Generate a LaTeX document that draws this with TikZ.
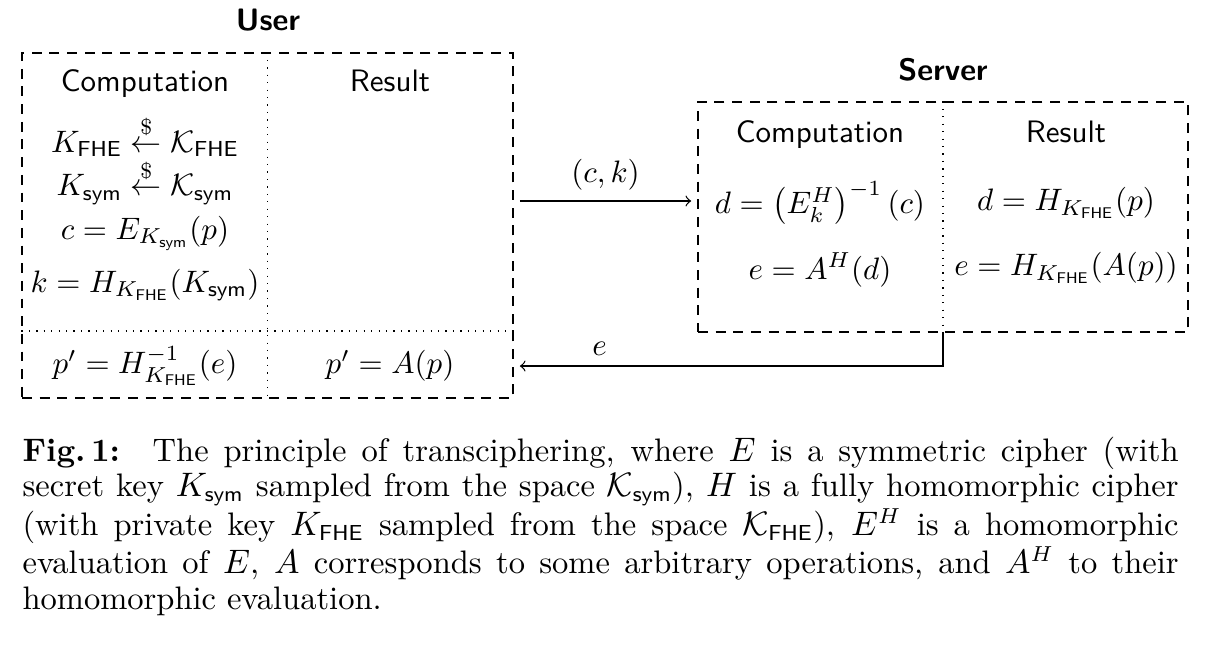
\documentclass[tikz,border=0pt]{standalone}
\usepackage{tikz}
\usepackage{amsmath}

\begin{document}
\begin{tikzpicture}[
    partybox/.style={draw, dash pattern=on 3.2pt off 2.5pt, inner sep=0pt},
    partytitle/.style={font=\sffamily\bfseries},
    colhead/.style={font=\sffamily, anchor=base},
    sendarrow/.style={->, shorten >=2pt, shorten <=2pt}
]
    % Parameters
    \def\capwidth{13.107cm} % width of the caption text

    % Fixed frame of the picture
    \useasboundingbox (0,0) rectangle (13.696,-7.336);

    % User side
    \node[partytitle] (usertitle) at (3.039,-0.227) {User};
    \node[partybox, minimum width=5.567cm, minimum height=3.912cm] (user) at (3.033,-2.557) {};
    \coordinate (usersep) at (0,-3.753);
    \draw[dotted] (user.north) -- (user.south);
    \draw[dotted] (user.west |- usersep) -- (user.east |- usersep);

    \node[colhead] (usercomp) at (1.644,-1.043) {Computation};
    \node[colhead] (userres) at (4.422,-1.043) {Result};

    \node (kfhe) at (1.644,-1.541) {$K_{\mathsf{FHE}} \stackrel{\$}{\leftarrow} \mathcal{K}_{\mathsf{FHE}}$};
    \node (ksym) at (1.644,-2.062) {$K_{\mathsf{sym}} \stackrel{\$}{\leftarrow} \mathcal{K}_{\mathsf{sym}}$};
    \node (cenc) at (1.644,-2.642) {$c = E_{K_{\mathsf{sym}}}(p)$};
    \node (khash) at (1.644,-3.231) {$k = H_{K_{\mathsf{FHE}}}(K_{\mathsf{sym}})$};
    \node (pdec) at (1.644,-4.150) {$p' = H^{-1}_{K_{\mathsf{FHE}}}(e)$};
    \node (pres) at (4.422,-4.150) {$p' = A(p)$};

    % Server side
    \node[partytitle] (servertitle) at (10.692,-0.794) {Server};
    \node[partybox, minimum width=5.556cm, minimum height=2.608cm] (server) at (10.692,-2.460) {};
    \draw[dotted] (server.north) -- (server.south);

    \node[colhead] (servercomp) at (9.297,-1.621) {Computation};
    \node[colhead] (serverres) at (12.086,-1.621) {Result};

    \node (dcomp) at (9.297,-2.302) {$d = \left(E_k^H\right)^{-1}(c)$};
    \node (ecomp) at (9.297,-3.061) {$e = A^H(d)$};
    \node (dres) at (12.086,-2.302) {$d = H_{K_{\mathsf{FHE}}}(p)$};
    \node (eres) at (12.086,-3.039) {$e = H_{K_{\mathsf{FHE}}}(A(p))$};

    % Messages
    \draw[sendarrow] (user.east |- 0,-2.279) -- node[above] {$(c,k)$} (server.west |- 0,-2.279);
    \draw[->, shorten >=2pt] (server.south) |- node[pos=0.9, above] {$e$} (user.east |- pres);

    % Caption
    \node[anchor=north west, text width=\capwidth, inner sep=0pt, align=justify,
          font=\fontsize{10.5}{11.3}\selectfont] (caption) at (0.249,-4.943)
        {\textbf{Fig.\,1:}\quad The principle of transciphering, where $E$ is a symmetric cipher (with\linebreak
         secret key $K_{\mathsf{sym}}$ sampled from the space $\mathcal{K}_{\mathsf{sym}}$), $H$ is a fully homomorphic cipher\linebreak
         (with private key $K_{\mathsf{FHE}}$ sampled from the space $\mathcal{K}_{\mathsf{FHE}}$), $E^H$ is a homomorphic\linebreak
         evaluation of $E$, $A$ corresponds to some arbitrary operations, and $A^H$ to their\linebreak
         homomorphic evaluation.};

\end{tikzpicture}
\end{document}
